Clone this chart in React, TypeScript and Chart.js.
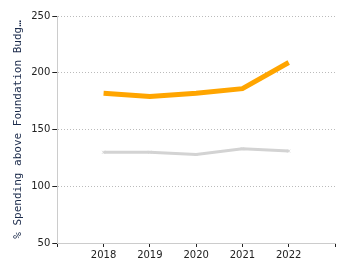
import React, { useEffect, useRef } from "react";
import { Chart, registerables } from "chart.js";

Chart.register(...registerables);

const years = [2018, 2019, 2020, 2021, 2022];
const orangeSeries = [182, 179, 182, 186, 209];
const graySeries = [130, 130, 128, 133, 131];
const yTitle = "% Spending above Foundation Budg\u2026";

export default function App() {
  const ref = useRef<HTMLCanvasElement>(null);
  useEffect(() => {
    if (!ref.current) return;
    const chart = new Chart(ref.current, {
      type: "line",
      data: {
        datasets: [
          {
            label: "Spending",
            data: years.map((y, i) => ({ x: y, y: orangeSeries[i] })),
            borderColor: "#FFA500",
            backgroundColor: "#FFA500",
            borderWidth: 5,
            pointRadius: 0,
            tension: 0,
          },
          {
            label: "Comparison",
            data: years.map((y, i) => ({ x: y, y: graySeries[i] })),
            borderColor: "#D3D3D3",
            backgroundColor: "#D3D3D3",
            borderWidth: 3,
            pointStyle: "crossRot",
            pointRadius: 2,
            pointBorderWidth: 1,
            tension: 0,
          },
        ],
      },
      options: {
        animation: false,
        responsive: false,
        layout: { padding: { top: 4, right: 7, left: 4, bottom: 4 } },
        plugins: { legend: { display: false }, tooltip: { enabled: false } },
        scales: {
          x: {
            type: "linear",
            min: 2017,
            max: 2023,
            ticks: {
              stepSize: 1,
              autoSkip: false,
              maxRotation: 0,
              color: "#222",
              font: { family: "DejaVu Sans", size: 10 },
              padding: 2,
              callback: (v: any) => (v === 2017 || v === 2023 ? "" : String(v)),
            },
            grid: {
              drawOnChartArea: false,
              drawTicks: true,
              tickLength: 4,
              tickColor: "#222",
            },
            border: { color: "#ccc", width: 1 },
          },
          y: {
            min: 50,
            max: 250,
            ticks: {
              stepSize: 50,
              color: "#222",
              font: { family: "DejaVu Sans", size: 10 },
              padding: 2,
            },
            grid: {
              color: "#bbb",
              tickColor: "#222",
              tickLength: 5,
              drawTicks: true,
            },
            border: { color: "#ccc", width: 1, dash: [1, 2] },
            title: {
              display: true,
              text: yTitle,
              color: "#1a2a4a",
              font: { family: "DejaVu Sans Mono", size: 11 },
              padding: { top: 0, bottom: 4 },
            },
          },
        },
      },
    });
    return () => chart.destroy();
  }, []);
  return <canvas ref={ref} width={334} height={259} />;
}
